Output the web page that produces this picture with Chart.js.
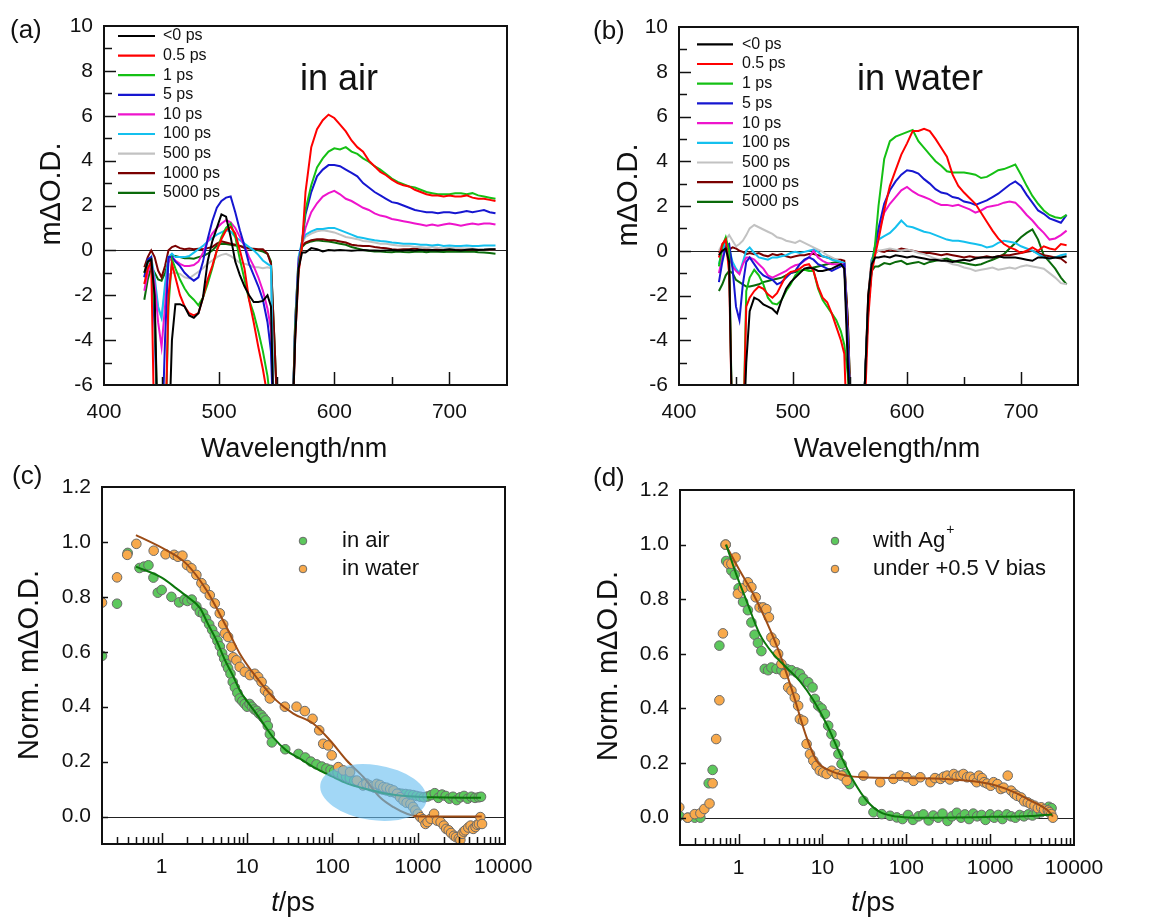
<!DOCTYPE html>
<html><head><meta charset="utf-8">
<script src="https://cdn.jsdelivr.net/npm/chart.js@4.4.1/dist/chart.umd.min.js"></script>
<style>
html,body{margin:0;padding:0;background:#fff;}
body{width:1167px;height:917px;position:relative;overflow:hidden;}
canvas{position:absolute;}
</style></head><body>
<canvas id="ca" width="580" height="470" style="left:0;top:0;width:580px;height:470px"></canvas>
<canvas id="cb" width="587" height="470" style="left:580px;top:0;width:587px;height:470px"></canvas>
<canvas id="cc" width="600" height="457" style="left:0;top:460px;width:600px;height:457px"></canvas>
<canvas id="cd" width="587" height="457" style="left:580px;top:460px;width:587px;height:457px"></canvas>
<script>
// ---------- spectra (panels a, b) ----------
const WL = [435,438,441,444,447,450,453,456,459,
 462,466,470,474,478,482,486,490,494,498,502,506,510,514,518,522,526,530,534,538,542,
 545,548,552,558,563,566,569,572,
 575,580,585,590,595,600,605,610,615,620,625,630,635,640,645,650,655,660,665,670,675,680,685,690,695,700,705,710,715,720,725,730,735,740];
const SERIES = ['<0 ps','0.5 ps','1 ps','5 ps','10 ps','100 ps','500 ps','1000 ps','5000 ps'];
const SERIES_COLORS = ['#000000','#ff0000','#14c014','#1616d0','#ee14cc','#14c0ee','#c2c2c2','#7a0000','#0a6a0a'];

const aNeg = [-1.0,-0.5,-0.4,-2.0,-9,-9,-9,-9,-4,
 -2.4,-2.4,-2.5,-2.9,-3.0,-2.8,-2.1,-0.5,0.4,1.0,1.6,1.5,0.6,-0.5,-1.1,-1.6,-2.0,-2.3,-2.3,-2.25,-2.0,
 -2.5,-9,-9,-9,-9,-4,-0.8,-0.1,
 -0.1,0.1,0.05,-0.05,0.02,0.0,0.02,0.0,-0.02,0.0,0.02,0.0,0.0,-0.02,0.0,0.02,0.0,0.0,0.02,0.0,0.03,0.0,0.02,0.0,0.02,0.05,0.02,0.0,0.03,0.05,0.02,0.03,0.05,0.05];
const a05 = [-1.5,-0.8,-0.5,-9,-9,-9,-9,-2.0,-0.6,
 -1.2,-2.0,-2.5,-2.8,-2.9,-2.8,-2.1,-1.3,-0.7,0.0,0.5,0.9,1.05,0.75,0.0,-0.8,-2.2,-3.2,-4.3,-5.3,-6.5,
 -8,-9,-9,-9,-9,-4,-1.0,0.2,
 2.6,4.6,5.4,5.8,6.05,5.9,5.6,5.3,4.9,4.6,4.4,4.0,3.75,3.5,3.35,3.15,3.0,2.9,2.85,2.7,2.6,2.5,2.45,2.45,2.4,2.45,2.4,2.4,2.45,2.35,2.3,2.3,2.25,2.2];
const a1 = [-1.0,-0.5,-0.4,-2.5,-9,-9,-9,-2.5,-0.4,
 -0.8,-1.3,-1.7,-2.0,-2.2,-2.45,-2.1,-1.5,-0.8,0.0,0.6,1.0,1.2,0.6,-0.4,-1.3,-2.2,-2.8,-3.6,-4.5,-5.6,
 -7,-9,-9,-9,-9,-3.5,-0.8,0.3,
 1.8,2.9,3.7,4.1,4.4,4.55,4.5,4.6,4.4,4.3,4.1,3.95,3.75,3.6,3.4,3.2,3.05,2.95,2.85,2.8,2.7,2.6,2.55,2.5,2.5,2.5,2.55,2.55,2.5,2.55,2.45,2.4,2.35,2.3];
const a5 = [-1.2,-0.4,-0.3,-3.5,-9,-9,-4,-0.3,-0.3,
 -0.5,-0.7,-1.0,-1.2,-1.35,-1.2,-0.5,0.5,1.3,1.9,2.2,2.35,2.4,1.7,0.9,0.2,-0.6,-1.1,-1.6,-2.2,-3.2,
 -4.5,-9,-9,-9,-9,-3.5,-0.6,0.4,
 1.6,2.6,3.3,3.6,3.8,3.8,3.75,3.6,3.45,3.3,3.0,2.8,2.6,2.45,2.3,2.15,2.1,2.0,1.9,1.8,1.75,1.7,1.7,1.65,1.7,1.7,1.65,1.7,1.75,1.7,1.75,1.8,1.7,1.65];
const a10 = [-1.8,-1.0,-0.45,-1.5,-3.2,-4.3,-2.5,-0.5,-0.3,
 -0.45,-0.6,-0.7,-0.7,-0.65,-0.5,-0.1,0.4,0.75,1.0,1.2,1.35,1.25,1.0,0.6,0.2,-0.3,-0.7,-1.2,-1.8,-2.6,
 -3.5,-9,-9,-9,-9,-3.5,-0.5,0.3,
 1.0,1.7,2.1,2.4,2.55,2.65,2.5,2.3,2.2,2.05,1.9,1.8,1.65,1.55,1.5,1.4,1.35,1.3,1.25,1.2,1.15,1.1,1.15,1.1,1.15,1.2,1.15,1.1,1.15,1.2,1.15,1.2,1.2,1.15];
const a100 = [-1.2,-0.6,-0.3,-1.2,-2.5,-3.0,-1.5,-0.3,-0.15,
 -0.3,-0.3,-0.3,-0.25,-0.1,0.05,0.2,0.4,0.55,0.7,0.8,0.9,0.85,0.6,0.45,0.3,0.15,0.0,-0.2,-0.45,-0.6,
 -0.7,-9,-9,-9,-9,-3.2,-0.3,0.4,
 0.7,0.85,0.95,0.95,1.0,1.0,0.9,0.8,0.7,0.6,0.55,0.5,0.45,0.42,0.4,0.35,0.33,0.3,0.3,0.28,0.25,0.25,0.22,0.25,0.2,0.22,0.2,0.2,0.22,0.2,0.2,0.22,0.22,0.22];
const a500 = [-1.5,-0.9,-0.6,-1.5,-2.6,-3.0,-1.8,-1.1,-1.0,
 -1.0,-1.05,-1.2,-1.25,-1.1,-0.95,-0.8,-0.6,-0.45,-0.3,-0.2,-0.15,-0.25,-0.4,-0.55,-0.6,-0.65,-0.75,-0.75,-0.8,-0.75,
 -0.8,-9,-9,-9,-9,-3.2,-0.3,0.3,
 0.6,0.75,0.85,0.9,0.85,0.8,0.7,0.6,0.55,0.5,0.42,0.4,0.35,0.3,0.3,0.25,0.22,0.2,0.2,0.15,0.15,0.12,0.15,0.12,0.1,0.12,0.1,0.1,0.08,0.08,0.05,0.06,0.05,0.05];
const a1000 = [-0.75,-0.3,0.0,-0.3,-0.9,-1.2,-0.7,0.0,0.15,
 0.2,0.1,0.05,0.08,0.05,0.07,0.05,0.1,0.15,0.3,0.4,0.35,0.3,0.25,0.2,0.1,0.08,0.07,0.05,0.05,-0.15,
 -0.6,-4,-9,-9,-9,-3.2,-0.4,0.2,
 0.35,0.45,0.5,0.5,0.45,0.45,0.4,0.35,0.25,0.22,0.2,0.2,0.15,0.12,0.1,0.05,0.03,0.05,0.05,0.08,0.03,0.05,0.02,0.05,0.03,0.05,0.03,0.05,0.02,0.05,0.03,0.05,0.03,0.05];
const a5000 = [-2.2,-1.3,-0.75,-1.0,-1.3,-1.35,-1.0,-0.5,-0.25,
 -0.25,-0.3,-0.35,-0.35,-0.37,-0.3,-0.25,-0.15,0.0,0.2,0.3,0.28,0.25,0.22,0.2,0.15,0.1,0.05,0.0,-0.05,-0.15,
 -0.5,-4,-9,-9,-9,-3.3,-0.5,0.15,
 0.3,0.4,0.45,0.42,0.4,0.35,0.3,0.25,0.15,0.08,0.02,-0.02,-0.05,-0.05,-0.07,-0.08,-0.05,-0.07,-0.08,-0.06,-0.05,-0.08,-0.05,-0.06,-0.07,-0.05,-0.06,-0.05,-0.06,-0.05,-0.08,-0.1,-0.12,-0.15];

const bNeg = [-0.2,0.0,0.1,-0.5,-9,-9,-9,-9,-5,
 -2.7,-2.1,-2.2,-2.4,-2.5,-2.6,-2.8,-2.2,-1.7,-1.4,-1.2,-1.0,-0.8,-0.75,-0.8,-0.9,-0.9,-0.85,-0.8,-0.7,-0.6,
 -0.8,-5,-9,-9,-6,-2,-0.6,-0.3,
 -0.3,-0.25,-0.3,-0.2,-0.25,-0.3,-0.25,-0.3,-0.35,-0.4,-0.4,-0.45,-0.45,-0.5,-0.45,-0.4,-0.45,-0.35,-0.3,-0.3,-0.3,-0.25,-0.3,-0.3,-0.3,-0.35,-0.4,-0.45,-0.3,-0.3,-0.35,-0.3,-0.3,-0.25];
const b05 = [-0.3,0.3,0.5,-1,-9,-9,-9,-9,-2.5,
 -2.1,-1.8,-1.6,-1.7,-1.95,-2.1,-1.9,-1.5,-1.1,-0.95,-0.9,-0.8,-0.65,-0.6,-0.9,-1.6,-2.1,-2.3,-2.8,-3.4,-4.0,
 -4.6,-9,-9,-9,-7,-3,-1.0,-0.2,
 0.5,1.8,2.9,3.6,4.3,4.8,5.35,5.35,5.45,5.35,5.0,4.6,4.2,3.4,2.9,2.6,2.35,2.1,1.7,1.3,0.9,0.55,0.3,0.15,0.05,-0.1,0.0,0.15,0.0,0.2,0.1,0.05,0.3,0.25];
const b1 = [-0.7,0.2,0.6,0.0,-9,-9,-9,-9,-1.8,
 -1.2,-0.85,-1.1,-1.5,-2.1,-2.35,-2.4,-2.2,-1.8,-1.5,-1.1,-0.9,-0.85,-0.9,-0.9,-1.7,-2.2,-2.5,-2.8,-3.1,-3.6,
 -4.2,-5.5,-9,-9,-6,-2.5,-0.8,0.3,
 2.0,4.1,4.9,5.1,5.2,5.3,5.4,4.9,4.6,4.3,4.0,3.8,3.55,3.5,3.5,3.5,3.45,3.4,3.25,3.3,3.45,3.6,3.65,3.75,3.85,3.4,2.9,2.45,2.1,1.8,1.6,1.5,1.45,1.6];
const b5 = [-1.4,-0.5,0.2,0.3,-0.8,-2.5,-3.1,-1.5,-0.5,
 -0.3,-0.6,-0.9,-1.1,-1.2,-1.3,-1.5,-1.4,-1.2,-1.0,-0.9,-0.6,-0.4,-0.3,-0.4,-0.6,-0.7,-0.8,-0.9,-0.8,-0.7,
 -0.6,-4,-9,-9,-6,-2.5,-0.8,0.2,
 1.0,2.1,2.7,3.1,3.4,3.6,3.55,3.45,3.2,3.0,2.75,2.6,2.55,2.4,2.35,2.2,2.15,2.05,2.15,2.25,2.4,2.55,2.75,2.95,3.1,2.9,2.5,2.15,1.8,1.65,1.45,1.35,1.25,1.6];
const b10 = [-1.0,-0.3,0.1,-0.2,-0.7,-0.9,-1.05,-0.6,-0.3,
 -0.3,-0.4,-0.6,-0.8,-1.1,-1.2,-1.1,-1.0,-0.9,-0.75,-0.65,-0.6,-0.45,-0.3,0.0,-0.3,-0.45,-0.55,-0.6,-0.6,-0.6,
 -0.6,-4,-9,-9,-6,-2.5,-0.8,0.1,
 0.8,1.7,2.1,2.4,2.7,2.85,2.65,2.5,2.4,2.3,2.15,2.05,2.05,2.0,2.05,1.95,1.85,1.7,1.8,1.95,2.0,2.05,2.15,2.2,2.15,1.9,1.6,1.35,1.05,0.8,0.5,0.55,0.7,0.9];
const b100 = [-0.6,0.0,0.45,0.1,-0.5,-0.8,-1.0,-0.5,0.0,
 0.15,-0.1,-0.3,-0.35,-0.4,-0.3,-0.3,-0.25,-0.2,-0.1,-0.05,-0.1,-0.05,0.0,0.05,-0.05,-0.25,-0.3,-0.4,-0.45,-0.5,
 -0.55,-4,-9,-9,-6,-2.5,-0.5,0.2,
 0.5,0.65,0.8,1.05,1.35,1.1,1.05,0.95,0.85,0.8,0.7,0.6,0.5,0.45,0.45,0.4,0.35,0.3,0.25,0.15,0.2,0.35,0.45,0.4,0.35,0.2,0.1,0.0,-0.15,-0.3,-0.35,-0.3,-0.2,-0.15];
const b500 = [0.0,0.3,0.5,0.7,0.45,0.2,0.3,0.45,0.7,
 1.0,1.15,1.05,0.95,0.85,0.75,0.6,0.55,0.45,0.4,0.35,0.45,0.35,0.25,0.15,0.05,-0.05,-0.2,-0.3,-0.4,-0.5,
 -0.6,-4,-9,-9,-6,-2.5,-0.5,-0.1,
 0.0,0.05,0.1,0.05,0.0,0.05,0.0,-0.1,-0.15,-0.25,-0.35,-0.4,-0.5,-0.6,-0.65,-0.75,-0.8,-0.9,-0.85,-0.8,-0.75,-0.85,-0.8,-0.75,-0.8,-0.7,-0.65,-0.7,-0.75,-0.8,-1.0,-1.2,-1.45,-1.5];
const b1000 = [-0.1,0.05,0.1,0.05,0.15,0.1,0.0,-0.05,-0.15,
 -0.1,-0.15,-0.1,-0.2,-0.25,-0.15,-0.2,-0.15,-0.25,-0.3,-0.25,-0.2,-0.2,-0.15,-0.15,-0.2,-0.25,-0.3,-0.35,-0.4,-0.4,
 -0.45,-3,-9,-9,-6,-2,-0.4,-0.1,
 0.0,-0.05,0.05,0.0,0.1,0.05,0.0,-0.05,-0.1,-0.1,-0.15,-0.2,-0.15,-0.2,-0.25,-0.3,-0.25,-0.3,-0.3,-0.25,-0.3,-0.25,-0.2,-0.2,-0.15,-0.1,-0.05,0.0,-0.1,-0.2,-0.25,-0.3,-0.35,-0.55];
const b5000 = [-1.8,-1.5,-1.1,-0.9,-1.0,-1.3,-1.4,-1.5,-1.6,
 -1.6,-1.55,-1.5,-1.4,-1.35,-1.3,-1.25,-1.2,-1.1,-1.0,-0.95,-0.9,-0.85,-0.8,-0.75,-0.7,-0.65,-0.6,-0.55,-0.5,-0.55,
 -0.6,-3,-9,-9,-6,-2.5,-0.9,-0.7,
 -0.7,-0.55,-0.6,-0.5,-0.45,-0.6,-0.55,-0.5,-0.6,-0.5,-0.45,-0.4,-0.35,-0.45,-0.5,-0.55,-0.6,-0.65,-0.6,-0.5,-0.4,-0.3,-0.15,0.1,0.35,0.6,0.8,0.95,0.5,-0.2,-0.5,-0.8,-1.2,-1.5];

const WL_TICK_LABELS = [400,500,600,700];
const WL_MAJOR = [500,600,700];
const WL_MINOR = [450,550,650];
const OD_TICK_LABELS = [-6,-4,-2,0,2,4,6,8,10];
const OD_MINOR = [-5,-3,-1,1,3,5,7,9];

// ---------- kinetics (panels c, d) : [t/ps, norm. mΔO.D.] ----------
const cAir = [[0.2,0.585],[0.3,0.775],[0.4,0.96],[0.55,0.905],[0.62,0.91],[0.7,0.915],[0.8,0.87],[0.9,0.815],[1.0,0.825],[1.3,0.80],[1.6,0.78],[1.85,0.79],[2.0,0.785],[2.25,0.79],[2.55,0.765],[2.8,0.745],[3.05,0.74],[3.3,0.72],[3.6,0.70],[3.9,0.68],[4.2,0.66],[4.5,0.64],[4.8,0.62],[5.1,0.595],[5.4,0.575],[5.7,0.555],[6.0,0.54],[6.4,0.52],[6.8,0.49],[7.2,0.47],[7.7,0.45],[8.2,0.43],[8.8,0.42],[9.4,0.41],[10,0.40],[10.7,0.41],[11.4,0.40],[12.2,0.39],[13,0.385],[13.8,0.375],[14.6,0.37],[15.5,0.36],[16.5,0.35],[17.5,0.33],[18.5,0.30],[19.5,0.27],[28,0.245],[40,0.228],[48,0.215],[56,0.20],[65,0.19],[75,0.182],[85,0.175],[95,0.17],[105,0.165],[115,0.16],[130,0.15],[145,0.145],[160,0.14],[180,0.13],[200,0.125],[225,0.12],[250,0.115],[280,0.11],[310,0.105],[350,0.10],[390,0.098],[430,0.095],[480,0.09],[530,0.088],[590,0.085],[650,0.083],[720,0.082],[800,0.08],[880,0.078],[970,0.075],[1070,0.072],[1180,0.07],[1300,0.073],[1430,0.078],[1580,0.085],[1740,0.068],[1920,0.08],[2120,0.075],[2340,0.065],[2580,0.072],[2850,0.06],[3150,0.07],[3480,0.075],[3840,0.065],[4240,0.072],[4680,0.068],[5170,0.07],[5500,0.072]];
const cWater = [[0.2,0.779],[0.3,0.871],[0.395,0.953],[0.505,0.993],[0.806,0.968],[1.11,0.955],[1.4,0.953],[1.55,0.946],[1.75,0.95],[1.98,0.916],[2.23,0.904],[2.55,0.88],[2.92,0.85],[3.2,0.83],[3.66,0.806],[4.19,0.776],[4.79,0.74],[5.25,0.70],[5.5,0.667],[6.0,0.654],[6.56,0.618],[6.87,0.58],[7.5,0.569],[8.2,0.545],[9.4,0.527],[10.8,0.515],[12.3,0.52],[13.5,0.508],[14.8,0.49],[16.2,0.46],[17.7,0.448],[18.5,0.43],[27.7,0.40],[38,0.40],[47.5,0.384],[58.5,0.356],[70,0.314],[78,0.265],[89,0.259],[98,0.223],[117,0.18],[134,0.168],[161,0.162],[193,0.131],[228,0.113],[250,0.12],[275,0.113],[300,0.11],[330,0.119],[360,0.115],[395,0.107],[430,0.105],[475,0.10],[520,0.095],[570,0.083],[620,0.07],[680,0.058],[740,0.05],[820,0.046],[880,0.035],[935,0.022],[1000,0.01],[1070,-0.002],[1150,-0.01],[1230,-0.027],[1300,-0.02],[1415,-0.008],[1550,0.01],[1680,-0.015],[1850,-0.02],[2020,-0.033],[2150,-0.045],[2300,-0.05],[2450,-0.06],[2650,-0.07],[2800,-0.075],[3020,-0.08],[3150,-0.085],[3300,-0.063],[3450,-0.055],[3600,-0.05],[3900,-0.04],[4150,-0.033],[4450,-0.045],[4750,-0.038],[4950,-0.03],[5200,-0.027],[5400,-0.002],[5650,-0.027]];
const cAirFit = [[0.5,0.91],[1,0.87],[1.5,0.83],[2,0.80],[2.8,0.76],[3.5,0.70],[4.4,0.64],[5.5,0.57],[6.9,0.51],[8.2,0.46],[10,0.42],[11.8,0.39],[15,0.345],[20,0.29],[29,0.24],[42,0.21],[60,0.18],[100,0.145],[150,0.12],[250,0.10],[400,0.085],[620,0.077],[1000,0.072],[1530,0.07],[5500,0.068]];
const cWaterFit = [[0.5,1.025],[1.13,0.97],[1.95,0.92],[3.34,0.825],[5.74,0.69],[8.2,0.594],[12.8,0.508],[22,0.423],[34.8,0.375],[60,0.338],[94,0.277],[147,0.204],[230,0.144],[360,0.07],[520,0.034],[745,0.01],[1070,0.0],[5600,0.0]];

const dAg = [[0.196,0.007],[0.247,0.0],[0.30,0.0],[0.35,0.0],[0.44,0.126],[0.49,0.175],[0.59,0.63],[0.70,1.0],[0.71,0.94],[0.82,0.905],[0.9,0.89],[1.0,0.84],[1.13,0.79],[1.29,0.76],[1.42,0.715],[1.55,0.67],[1.7,0.64],[1.87,0.61],[2.05,0.545],[2.25,0.54],[2.46,0.55],[2.83,0.545],[3.24,0.54],[3.72,0.545],[4.27,0.54],[4.9,0.532],[5.38,0.527],[5.9,0.51],[6.77,0.496],[7.62,0.477],[8.1,0.435],[8.9,0.41],[9.77,0.40],[10.7,0.38],[11.7,0.337],[12.8,0.306],[14.1,0.27],[15.5,0.233],[16.9,0.197],[18.6,0.16],[21,0.123],[30.8,0.062],[40.6,0.02],[51,0.013],[64,0.007],[77,0.001],[90,-0.005],[105,0.01],[120,-0.008],[140,0.005],[160,0.012],[185,-0.01],[210,0.008],[240,0.0],[270,0.015],[310,-0.012],[350,0.005],[400,0.018],[450,0.0],[500,0.012],[560,-0.005],[630,0.015],[700,0.005],[790,0.01],[880,-0.008],[1000,0.012],[1120,0.0],[1250,0.01],[1400,-0.005],[1580,0.012],[1780,0.005],[2000,0.0],[2250,0.01],[2530,0.005],[2850,0.012],[3200,0.008],[3600,0.015],[4050,0.02],[4550,0.03],[5000,0.04],[5400,0.035]];
const dBias = [[0.196,0.038],[0.247,0.0],[0.30,0.013],[0.35,0.016],[0.39,0.032],[0.45,0.052],[0.49,0.126],[0.54,0.288],[0.59,0.43],[0.65,0.675],[0.70,1.0],[0.75,0.93],[0.82,0.93],[0.92,0.953],[0.98,0.82],[1.13,0.84],[1.29,0.862],[1.42,0.844],[1.6,0.807],[1.78,0.77],[1.96,0.77],[2.14,0.764],[2.3,0.734],[2.46,0.66],[2.7,0.642],[2.96,0.6],[3.24,0.563],[3.55,0.526],[3.9,0.477],[4.27,0.465],[4.68,0.44],[5.13,0.41],[5.38,0.361],[5.9,0.355],[6.47,0.27],[7.1,0.233],[7.78,0.209],[8.5,0.19],[9.3,0.172],[10.2,0.166],[11.2,0.16],[12.9,0.172],[14.8,0.16],[17,0.154],[19.5,0.135],[30.8,0.154],[48.8,0.13],[70.3,0.142],[84.8,0.154],[101,0.148],[122,0.135],[147,0.148],[194,0.13],[220,0.145],[256,0.142],[280,0.15],[307,0.154],[330,0.14],[368,0.16],[400,0.15],[443,0.154],[480,0.16],[532,0.148],[580,0.15],[640,0.142],[690,0.13],[735,0.154],[800,0.145],[846,0.13],[920,0.125],[1016,0.117],[1100,0.13],[1220,0.123],[1340,0.105],[1450,0.11],[1620,0.154],[1780,0.099],[1950,0.087],[2100,0.08],[2340,0.074],[2550,0.06],[2810,0.056],[3050,0.05],[3380,0.044],[3700,0.035],[4060,0.038],[4400,0.03],[4880,0.026],[5100,0.02],[5350,0.013],[5600,0.0]];
const dAgFit = [[0.71,1.0],[0.94,0.89],[1.24,0.795],[1.78,0.673],[2.58,0.6],[3.72,0.55],[5.38,0.50],[7.8,0.43],[11.2,0.343],[16.2,0.233],[23.4,0.135],[33.8,0.062],[48.8,0.02],[77,0.004],[120,0.0],[1000,0.003],[3000,0.006],[5500,0.012]];
const dBiasFit = [[0.70,1.0],[1.03,0.905],[1.49,0.82],[2.14,0.72],[3.1,0.6],[4.48,0.453],[6.47,0.294],[8.5,0.209],[12.3,0.172],[19.5,0.154],[30.8,0.148],[100,0.145],[300,0.142],[770,0.13],[1200,0.117],[1950,0.093],[3060,0.062],[4880,0.026],[5600,0.004]];

const T_LABELS = [1,10,100,1000,10000];
const NORM_LABELS = [0,0.2,0.4,0.6,0.8,1.0,1.2];
const HIGHLIGHT = {t0:71, t1:1290, v0:-0.022, v1:0.197, tilt:0.15};

// ---------- drawing ----------
const FONT = '"Liberation Sans", Arial, Helvetica, sans-serif';
Chart.defaults.font.family = FONT;
Chart.defaults.animation = false;

const AIR_FILL = '#5cc85c', WATER_FILL = '#f8a94b', MARK_EDGE = '#6a6a6a';
const AIR_LINE = '#0b760b', WATER_LINE = '#9c4c16';

function logMinors(lo, hi){
  const out=[];
  for(let e=-1;e<=4;e++){ for(let m=2;m<=9;m++){ const v=m*Math.pow(10,e); if(v>lo && v<hi) out.push(v);} }
  return out;
}

function decoPlugin(o){
  return {
    id:'deco',
    beforeDatasetsDraw(chart){
      const {ctx, chartArea:a} = chart; const y = chart.scales.y;
      const yz = Math.round(y.getPixelForValue(0))+0.5;
      ctx.save(); ctx.strokeStyle='#222'; ctx.lineWidth=1;
      ctx.beginPath(); ctx.moveTo(a.left,yz); ctx.lineTo(a.right,yz); ctx.stroke(); ctx.restore();
    },
    afterDatasetsDraw(chart){
      if(!o.ellipse) return;
      const {ctx} = chart; const x=chart.scales.x, y=chart.scales.y; const e=o.ellipse;
      const x0=x.getPixelForValue(e.t0), x1=x.getPixelForValue(e.t1);
      const ya=y.getPixelForValue(e.v1), yb=y.getPixelForValue(e.v0);
      ctx.save(); ctx.fillStyle='rgba(105,190,240,0.62)';
      ctx.beginPath(); ctx.ellipse((x0+x1)/2,(ya+yb)/2,(x1-x0)/2,(yb-ya)/2*0.92,e.tilt,0,Math.PI*2); ctx.fill(); ctx.restore();
    },
    afterDraw(chart){
      const {ctx, chartArea:a} = chart; const x=chart.scales.x, y=chart.scales.y;
      ctx.save();
      ctx.strokeStyle='#111'; ctx.fillStyle='#111';
      ctx.lineWidth=1.5;
      const vline=(p,len)=>{ if(p<a.left+2||p>a.right-2) return; ctx.beginPath(); ctx.moveTo(p,a.bottom); ctx.lineTo(p,a.bottom-len); ctx.stroke(); };
      const hline=(p,len)=>{ if(p<a.top+2||p>a.bottom-2) return; ctx.beginPath(); ctx.moveTo(a.left,p); ctx.lineTo(a.left+len,p); ctx.stroke(); };
      o.xMajor.forEach(v=>vline(Math.round(x.getPixelForValue(v))+0.5,o.xMajLen));
      o.xMinor.forEach(v=>vline(Math.round(x.getPixelForValue(v))+0.5,o.xMinLen));
      o.yMajor.forEach(v=>hline(Math.round(y.getPixelForValue(v))+0.5,o.yMajLen));
      (o.yMinor||[]).forEach(v=>hline(Math.round(y.getPixelForValue(v))+0.5,o.yMinLen));
      ctx.lineWidth=2; ctx.strokeRect(a.left,a.top,a.right-a.left,a.bottom-a.top);
      ctx.font='21px '+FONT; ctx.textBaseline='middle';
      ctx.textAlign='center';
      o.xLabels.forEach(v=>ctx.fillText(String(v), x.getPixelForValue(v), a.bottom+o.xLabOff));
      ctx.textAlign='right';
      o.yLabels.forEach(v=>ctx.fillText(o.yFmt(v), a.left-11, y.getPixelForValue(v)));
      if(o.xTitleItalic){
        ctx.font='italic 27px '+FONT; const w1=ctx.measureText(o.xTitleItalic).width;
        ctx.font='27px '+FONT; const w2=ctx.measureText(o.xTitle).width;
        const sx=o.xTitlePos[0]-(w1+w2)/2;
        ctx.textAlign='left'; ctx.textBaseline='alphabetic';
        ctx.font='italic 27px '+FONT; ctx.fillText(o.xTitleItalic,sx,o.xTitlePos[1]);
        ctx.font='27px '+FONT; ctx.fillText(o.xTitle,sx+w1,o.xTitlePos[1]);
      } else {
        ctx.font='27px '+FONT; ctx.textAlign='center'; ctx.textBaseline='alphabetic';
        ctx.fillText(o.xTitle,o.xTitlePos[0],o.xTitlePos[1]);
      }
      ctx.save(); ctx.translate(o.yTitlePos[0],o.yTitlePos[1]); ctx.rotate(-Math.PI/2);
      ctx.font='29px '+FONT; ctx.textAlign='center'; ctx.textBaseline='middle';
      ctx.fillText(o.yTitle,0,0); ctx.restore();
      ctx.font='26px '+FONT; ctx.textAlign='left'; ctx.textBaseline='middle';
      ctx.fillText(o.panel,o.panelPos[0],o.panelPos[1]);
      if(o.note){ ctx.font='36px '+FONT; ctx.textBaseline='alphabetic'; ctx.fillText(o.note,o.notePos[0],o.notePos[1]); }
      if(o.lineLegend){
        const L=o.lineLegend; ctx.font='16px '+FONT; ctx.textBaseline='middle'; ctx.textAlign='left';
        chart.data.datasets.forEach((ds,i)=>{
          const yy=L.y0+i*L.dy;
          ctx.strokeStyle=ds.borderColor; ctx.lineWidth=2.2;
          ctx.beginPath(); ctx.moveTo(L.x0,yy); ctx.lineTo(L.x1,yy); ctx.stroke();
          ctx.fillStyle='#111'; ctx.fillText(ds.label,L.tx,yy);
        });
      }
      if(o.dotLegend){
        const L=o.dotLegend; ctx.textBaseline='middle'; ctx.textAlign='left';
        L.items.forEach((it,i)=>{
          const yy=L.y0+i*L.dy;
          ctx.beginPath(); ctx.arc(L.mx,yy,3.8,0,Math.PI*2); ctx.fillStyle=it.fill; ctx.fill();
          ctx.strokeStyle=MARK_EDGE; ctx.lineWidth=1; ctx.stroke();
          ctx.fillStyle='#111'; ctx.font='22px '+FONT; ctx.fillText(it.text,L.tx,yy);
          if(it.sup){ const w=ctx.measureText(it.text).width; ctx.font='14px '+FONT; ctx.fillText(it.sup,L.tx+w+1,yy-11); }
        });
      }
      ctx.restore();
    }
  };
}

function specChart(id, values, pad, o){
  const datasets = values.map((arr,i)=>({
    label: SERIES[i], borderColor: SERIES_COLORS[i], backgroundColor: SERIES_COLORS[i],
    data: WL.map((w,k)=>({x:w,y:arr[k]})), borderWidth:2, pointRadius:0, tension:0, fill:false
  }));
  return new Chart(document.getElementById(id), {
    type:'line',
    data:{datasets},
    options:{
      responsive:false, animation:false, events:[],
      layout:{padding:pad},
      plugins:{legend:{display:false}, tooltip:{enabled:false}},
      scales:{
        x:{type:'linear', min:400, max:750, display:false, bounds:'data'},
        y:{type:'linear', min:-6, max:10, display:false, bounds:'data'}
      }
    },
    plugins:[decoPlugin(Object.assign({
      xMajor:WL_MAJOR, xMinor:WL_MINOR, xMajLen:13, xMinLen:8,
      yMajor:OD_TICK_LABELS, yMinor:OD_MINOR, yMajLen:12, yMinLen:8,
      xLabels:WL_TICK_LABELS, xLabOff:27, yLabels:OD_TICK_LABELS, yFmt:v=>String(v),
      xTitle:'Wavelength/nm', yTitle:'mΔO.D.'
    }, o))]
  });
}

function kinChart(id, sets, pad, xmax, o){
  const pts = (arr)=>arr.map(p=>({x:p[0],y:p[1]}));
  const datasets = [
    {label:'fitA', data:pts(sets.fitA), showLine:true, borderColor:AIR_LINE, borderWidth:2, pointRadius:0, cubicInterpolationMode:'monotone', fill:false},
    {label:'fitB', data:pts(sets.fitB), showLine:true, borderColor:WATER_LINE, borderWidth:2, pointRadius:0, cubicInterpolationMode:'monotone', fill:false},
    {label:sets.nameB, data:pts(sets.B), showLine:false, pointRadius:4.8, backgroundColor:WATER_FILL, borderColor:MARK_EDGE, borderWidth:1},
    {label:sets.nameA, data:pts(sets.A), showLine:false, pointRadius:4.8, backgroundColor:AIR_FILL, borderColor:MARK_EDGE, borderWidth:1}
  ];
  return new Chart(document.getElementById(id), {
    type:'scatter',
    data:{datasets},
    options:{
      responsive:false, animation:false, events:[],
      layout:{padding:pad},
      plugins:{legend:{display:false}, tooltip:{enabled:false}},
      scales:{
        x:{type:'logarithmic', min:0.2, max:xmax, display:false, bounds:'data'},
        y:{type:'linear', min:-0.1, max:1.2, display:false, bounds:'data'}
      }
    },
    plugins:[decoPlugin(Object.assign({
      xMajor:T_LABELS, xMinor:logMinors(0.2,xmax), xMajLen:11, xMinLen:7,
      yMajor:NORM_LABELS, yMajLen:6,
      xLabels:T_LABELS, xLabOff:23, yLabels:NORM_LABELS, yFmt:v=>v.toFixed(1),
      xTitleItalic:'t', xTitle:'/ps', yTitle:'Norm. mΔO.D.'
    }, o))]
  });
}

specChart('ca', [aNeg,a05,a1,a5,a10,a100,a500,a1000,a5000], {left:104,top:26,right:73,bottom:85}, {
  panel:'(a)', panelPos:[10,31], note:'in air', notePos:[300,90],
  xTitlePos:[294,457], yTitlePos:[52,194],
  lineLegend:{x0:118,x1:155,tx:163,y0:36,dy:19.6}
});
specChart('cb', [bNeg,b05,b1,b5,b10,b100,b500,b1000,b5000], {left:99,top:27,right:89,bottom:85}, {
  panel:'(b)', panelPos:[13,32], note:'in water', notePos:[277,90],
  xTitlePos:[307,457], yTitlePos:[49,195],
  lineLegend:{x0:117,x1:153,tx:162,y0:44.3,dy:19.7}
});
kinChart('cc', {A:cAir,B:cWater,fitA:cAirFit,fitB:cWaterFit,nameA:'in air',nameB:'in water'},
  {left:102,top:27,right:95,bottom:73}, 10500, {
  panel:'(c)', panelPos:[12,17], xTitlePos:[293,451], yTitlePos:[30,205],
  ellipse:HIGHLIGHT,
  dotLegend:{mx:303,tx:342,y0:81,dy:28,items:[{fill:AIR_FILL,text:'in air'},{fill:WATER_FILL,text:'in water'}]}
});
kinChart('cd', {A:dAg,B:dBias,fitA:dAgFit,fitB:dBiasFit,nameA:'with Ag+',nameB:'under +0.5 V bias'},
  {left:100,top:30,right:93,bottom:72}, 10000, {
  panel:'(d)', panelPos:[13,19], xTitlePos:[293,451], yTitlePos:[29,206],
  dotLegend:{mx:255,tx:293,y0:81,dy:28,items:[{fill:AIR_FILL,text:'with Ag',sup:'+'},{fill:WATER_FILL,text:'under +0.5 V bias'}]}
});
</script>
</body></html>
